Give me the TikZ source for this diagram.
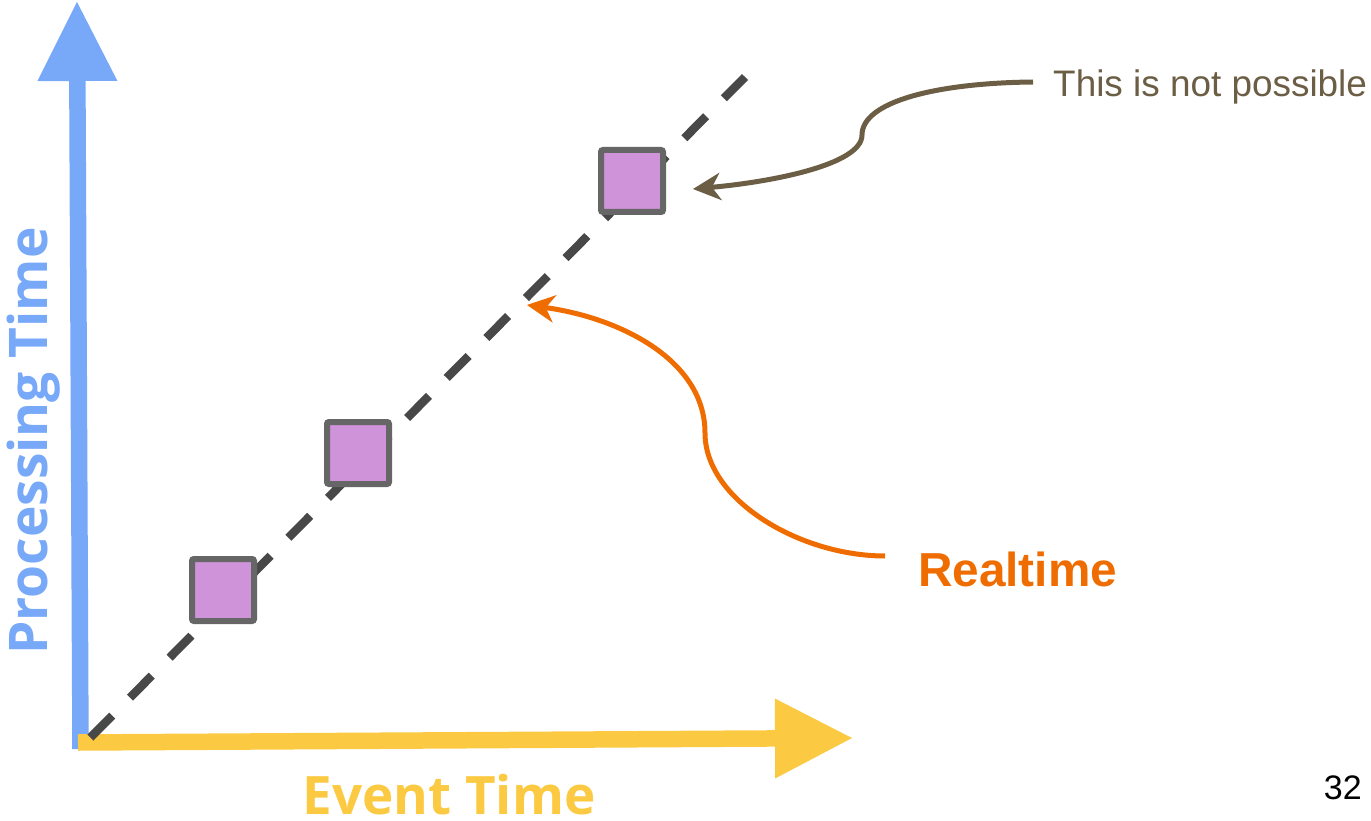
\documentclass[tikz,border=0pt]{standalone}
\usepackage{fontspec}
\setmainfont{Liberation Sans}
\newfontfamily\labelfont{Open Sans}
\usetikzlibrary{arrows.meta}

\definecolor{axisblue}{HTML}{78A9F8}
\definecolor{axisyellow}{HTML}{FBCA42}
\definecolor{dashgray}{HTML}{484848}
\definecolor{eventfill}{HTML}{CE93D8}
\definecolor{eventedge}{HTML}{666666}
\definecolor{noteorange}{HTML}{EF6C00}
\definecolor{notebrown}{HTML}{6B5E45}

\tikzset{
  axisline/.style={line width=16.5pt},
  eventbox/.style={draw=eventedge, fill=eventfill, line width=6pt,
    minimum size=62pt, inner sep=0pt, rounded corners=2pt},
  diagonal/.style={dashgray, line width=8.5pt,
    dash pattern=on 31pt off 25.25pt, dash phase=-2pt},
  callout/.style={line width=5pt,
    -{Stealth[length=28pt,width=28pt,inset=9pt,line width=0pt]}},
}

\begin{document}
\begin{tikzpicture}[x=1pt,y=-1pt]
\useasboundingbox (0,0) rectangle (1371,821);

% axes
\coordinate (ybot) at (80.5,749);
\coordinate (ytop) at (77,2);
\coordinate (xleft) at (78,742.5);
\coordinate (xright) at (852,738);
\draw[axisline, axisblue, -{Triangle[length=79pt,width=80pt,line width=0pt]}] (ybot) -- (ytop);
\draw[axisline, axisyellow, -{Triangle[length=77pt,width=80pt,line width=0pt]}] (xleft) -- (xright);

% axis titles
\node[rotate=90, anchor=base, text=axisblue, inner sep=0pt,
  font=\labelfont\bfseries\fontsize{53.3pt}{58pt}\selectfont] (ptitle) at (47,441) {Processing Time};
\node[anchor=base, text=axisyellow, inner sep=0pt,
  font=\labelfont\bfseries\fontsize{53pt}{56pt}\selectfont] (etitle) at (449,814) {Event Time};

% ideal diagonal
\coordinate (dstart) at (89,739);
\coordinate (dend) at (745,77);
\draw[diagonal] (dstart) -- (dend);

% events
\node[eventbox] (e1) at (223,590) {};
\node[eventbox] (e2) at (358,453) {};
\node[eventbox] (e3) at (632,181) {};

% annotations
\node[anchor=base west, inner sep=0pt, text=notebrown,
  font=\fontsize{36.9pt}{40pt}\selectfont] (impossible) at (1053,97) {This is not possible};
\node[anchor=base west, inner sep=0pt, text=noteorange,
  font=\bfseries\fontsize{47.7pt}{52pt}\selectfont] (realtime) at (918,586) {Realtime};
\node[anchor=base east, inner sep=0pt,
  font=\fontsize{34pt}{38pt}\selectfont] (page) at (1362,799) {32};

\coordinate (impstart) at (1033,82);
\coordinate (imptip) at (693,189);
\draw[callout, notebrown] (impstart)
  .. controls (935,83) and (862,102) .. (862,135)
  .. controls (862,165) and (770,182) .. (imptip);

\coordinate (rtstart) at (885,556);
\coordinate (rttip) at (527,305);
\draw[callout, noteorange] (rtstart)
  .. controls (800,556) and (705,500) .. (705,433)
  .. controls (705,360) and (620,318) .. (rttip);
\end{tikzpicture}
\end{document}
